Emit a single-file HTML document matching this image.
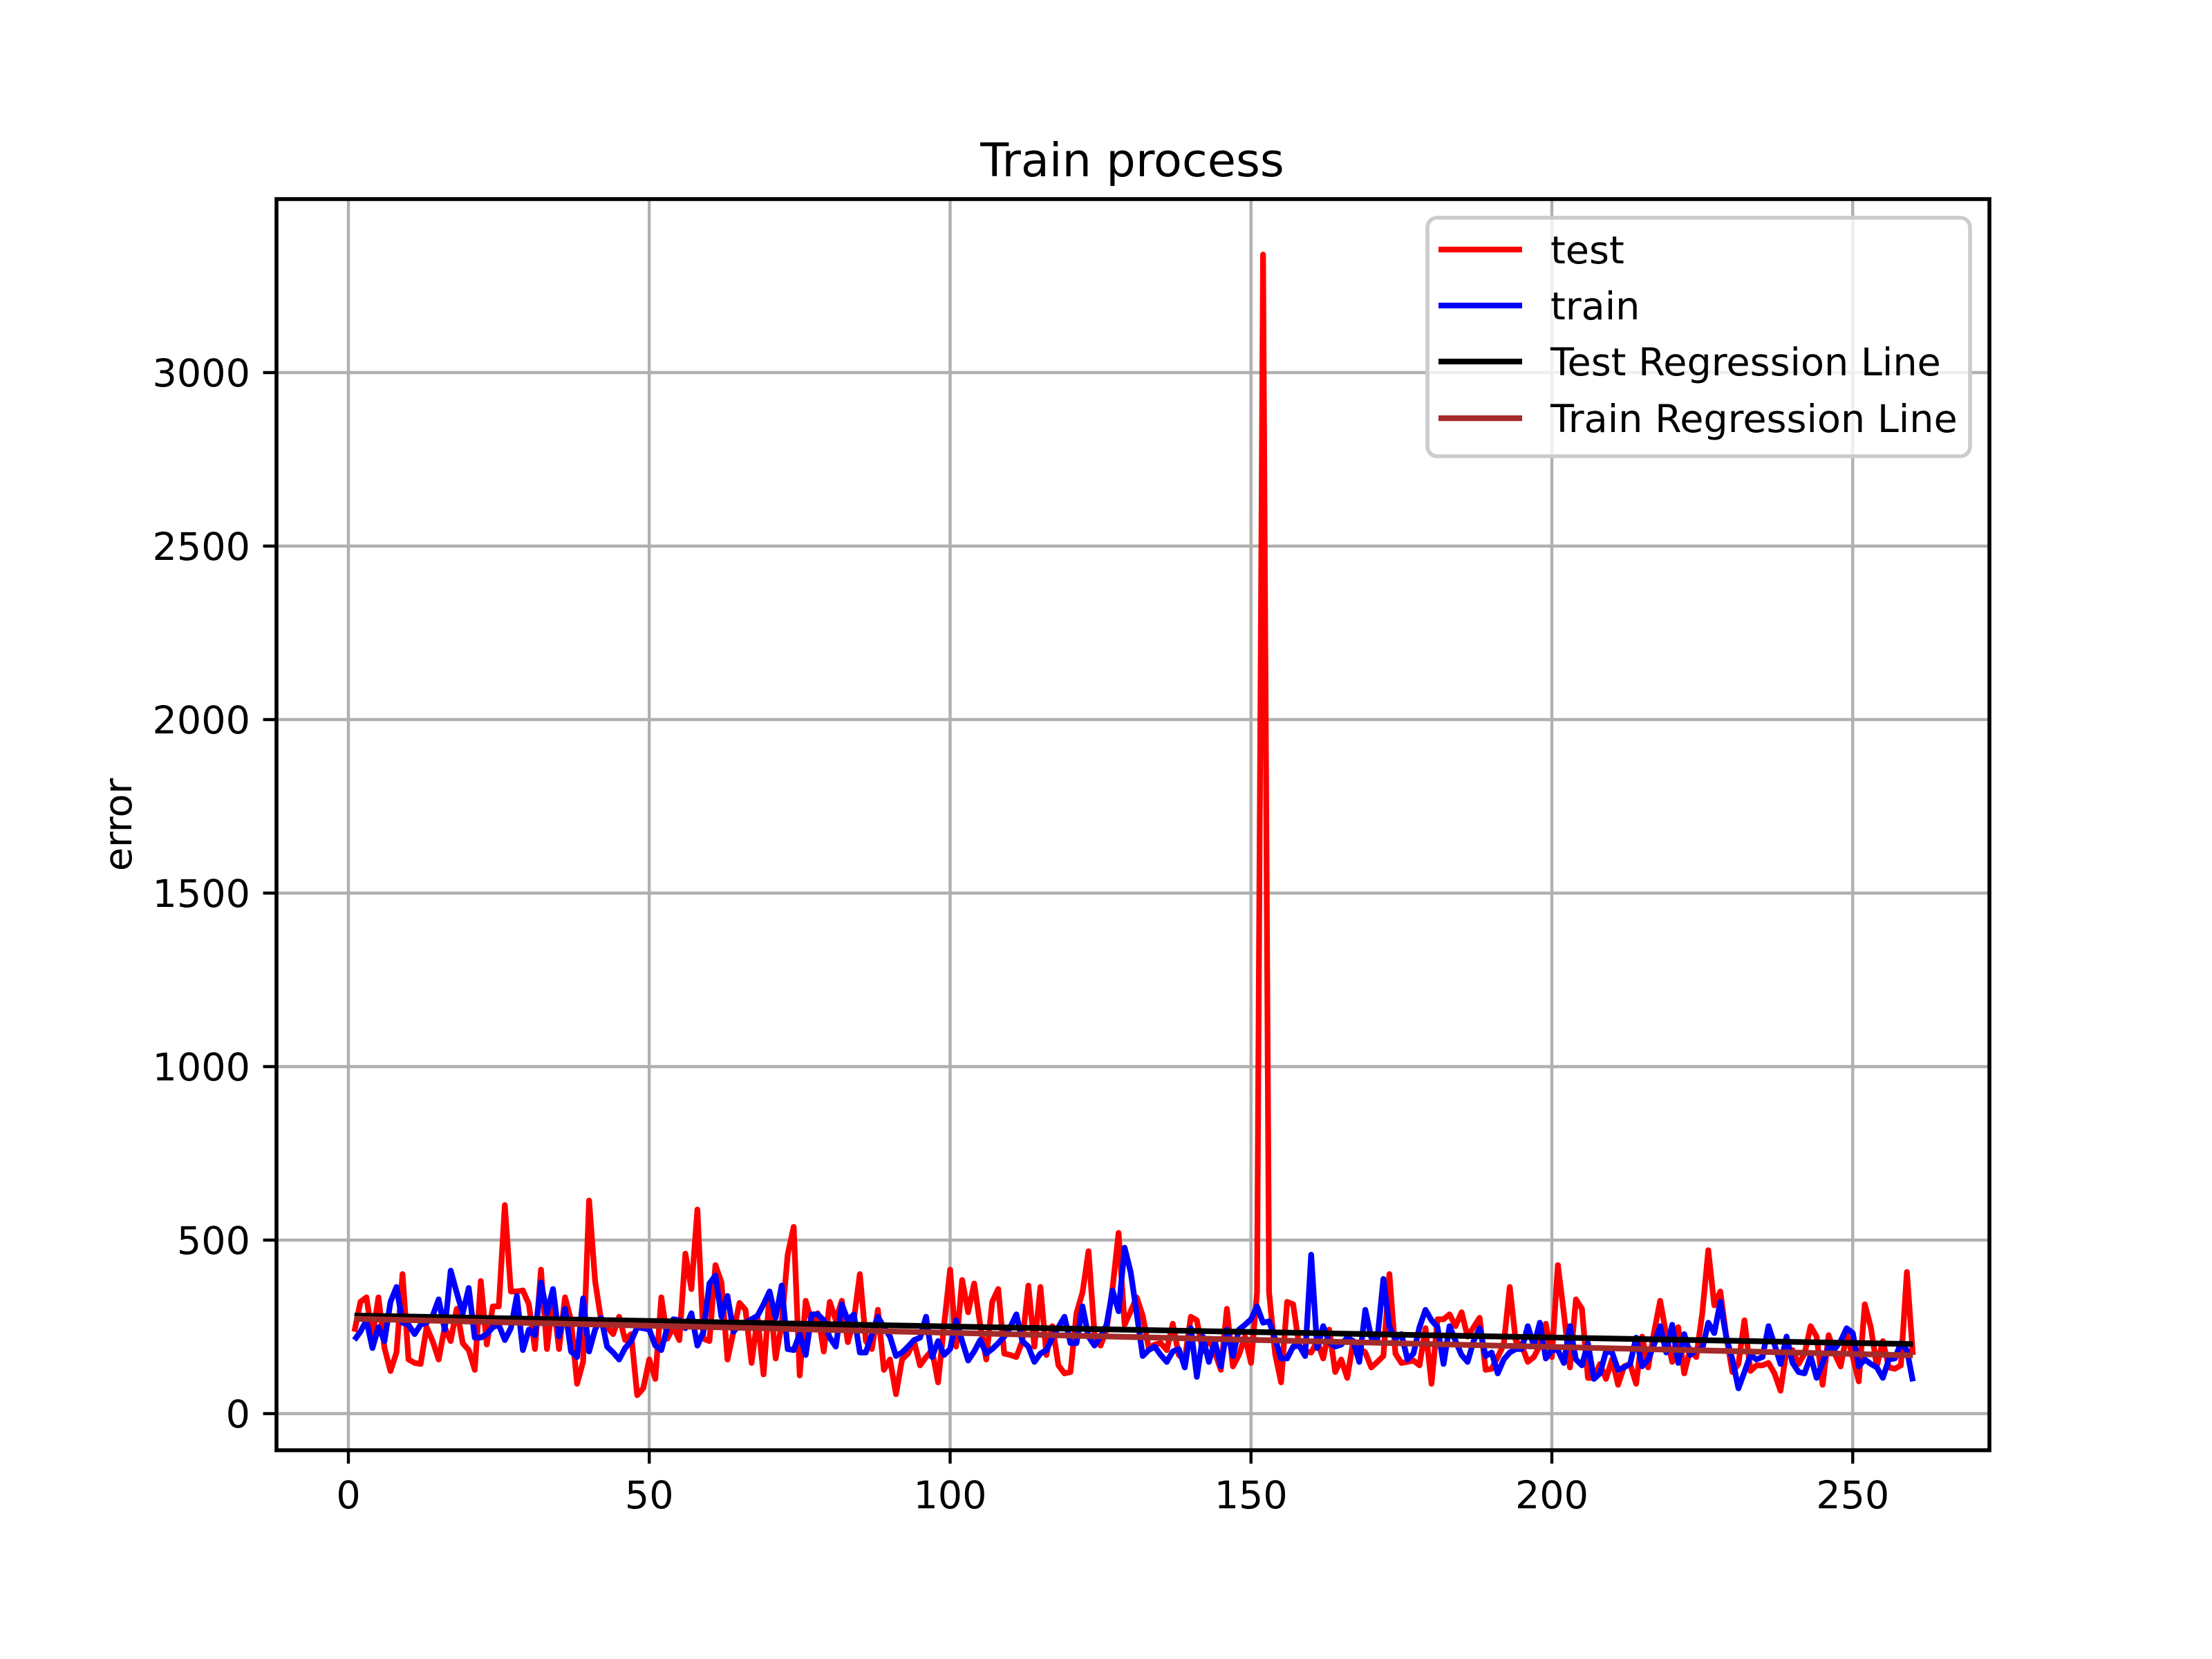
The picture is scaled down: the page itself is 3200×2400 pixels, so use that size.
<!DOCTYPE html>
<html><head><meta charset="utf-8"><style>
html,body{margin:0;padding:0;background:#fff;}
svg{display:block;font-family:"DejaVu Sans","Liberation Sans",sans-serif;}
</style></head><body>
<svg id="chart" width="3200" height="2400" viewBox="0 0 3200 2400" xmlns="http://www.w3.org/2000/svg">
<rect x="0" y="0" width="3200" height="2400" fill="#fff"/>
<g id="grid"></g>
<g id="series"></g>
<rect x="400" y="288" width="2478" height="1810" fill="none" stroke="#000" stroke-width="5.6"/>
<g id="ticks"></g>
<text x="1638" y="255" font-size="67" text-anchor="middle">Train process</text>
<text x="0" y="0" font-size="55.6" text-anchor="middle" transform="translate(190,1193) rotate(-90)">error</text>
<g>
<rect x="2065" y="315" width="785" height="345" rx="14" fill="#fff" fill-opacity="0.8" stroke="#cccccc" stroke-width="5.6"/>
<g><line x1="2081" y1="361" x2="2202" y2="361" stroke="#ff0000" stroke-width="8.3"/><text x="2243" y="381" font-size="55.6">test</text></g>
<g><line x1="2081" y1="442" x2="2202" y2="442" stroke="#0000ff" stroke-width="8.3"/><text x="2243" y="462" font-size="55.6">train</text></g>
<g><line x1="2081" y1="523" x2="2202" y2="523" stroke="#000" stroke-width="8.3"/><text x="2243" y="543" font-size="55.6">Test Regression Line</text></g>
<g><line x1="2081" y1="605" x2="2202" y2="605" stroke="#a52a2a" stroke-width="8.3"/><text x="2243" y="625" font-size="55.6">Train Regression Line</text></g>
</g>
</svg>
<script>
const xTicks = [0, 50, 100, 150, 200, 250];
const yTicks = [0, 500, 1000, 1500, 2000, 2500, 3000];
const testValues = [236,322,335,222,335,189,123,176,402,156,146,143,249,209,156,249,209,302,203,183,126,382,199,309,309,601,352,352,355,315,186,415,186,335,186,335,269,86,149,614,382,269,249,229,279,212,229,53,73,156,100,335,216,249,212,461,359,588,216,209,428,
378,156,236,319,299,146,276,113,349,159,259,458,538,110,325,262,289,179,322,269,325,206,269,402,209,186,299,126,156,56,156,173,209,139,163,183,90,256,415,193,385,292,375,256,156,322,359,173,169,163,209,369,193,365,169,252,139,116,120,289,349,468,
229,196,242,362,521,256,295,335,282,189,199,203,183,259,169,156,279,269,179,216,176,126,302,136,169,222,146,349,3340,349,173,90,322,315,196,179,176,209,159,242,120,156,103,209,189,176,133,149,166,402,173,146,149,153,139,246,86,272,272,286,252,292,
222,249,276,126,129,163,199,365,209,196,149,163,196,259,163,428,289,133,329,302,103,103,143,100,156,83,136,143,86,222,133,236,325,229,149,249,116,186,163,289,471,312,352,222,120,143,269,123,139,139,146,116,66,183,183,143,173,252,222,83,226,173,136,229,163,93,315,249,136,209,133,129,139,408,169];
const trainValues = [212,236,269,189,249,209,322,365,262,256,229,256,262,282,329,242,412,349,289,362,219,219,229,249,256,212,246,339,183,242,226,378,289,359,222,302,179,163,332,179,242,276,193,176,156,189,209,249,246,242,196,183,249,272,269,246,289,196,236,375,398,
279,339,236,256,262,272,282,315,352,276,369,186,183,229,169,286,286,269,219,193,315,269,286,176,176,229,279,249,222,166,176,193,212,219,279,163,209,169,186,269,209,153,179,212,173,186,203,222,249,286,209,193,149,173,183,219,249,279,203,203,309,222,
196,222,256,355,295,478,408,289,166,183,193,169,149,179,186,133,246,106,222,149,209,136,242,166,242,256,272,309,262,266,216,159,159,193,196,166,458,189,252,206,193,199,219,209,149,299,219,216,388,249,216,229,156,173,249,299,269,249,143,252,209,169,
149,209,246,166,176,116,156,176,186,186,252,196,262,159,183,183,146,252,156,139,203,100,116,179,176,126,133,143,219,136,156,199,252,176,256,146,229,169,183,186,262,232,322,219,156,73,120,169,156,163,252,199,143,222,146,120,116,166,103,146,193,186,209,246,232,136,156,143,133,103,156,159,203,183,93];

const NS = 'http://www.w3.org/2000/svg';
const X0 = 504, XS = 8.705, Y0 = 2045, YS = 0.502;
const L = 400, R = 2878, T = 288, B = 2098;
function sx(v){ return X0 + v * XS; }
function sy(v){ return Y0 - v * YS; }
function mk(tag, attrs){ const e = document.createElementNS(NS, tag); for (const k in attrs) e.setAttribute(k, attrs[k]); return e; }
const grid = document.getElementById('grid');
const ticks = document.getElementById('ticks');
const series = document.getElementById('series');

xTicks.forEach(t => {
  const gl = mk('line', {x1: sx(t), x2: sx(t), y1: T, y2: B, stroke: '#b0b0b0', 'stroke-width': 4.4});
  
  
  grid.appendChild(gl);
  const tk = mk('line', {x1: sx(t), x2: sx(t), y1: B, y2: B + 19.4, stroke: '#000', 'stroke-width': 4.4});
  
  
  ticks.appendChild(tk);
  const lb = mk('text', {x: sx(t), y: B + 84, 'font-size': 55.6, 'text-anchor': 'middle'});
  lb.textContent = String(t);
  
  
  ticks.appendChild(lb);
});
yTicks.forEach(t => {
  const gl = mk('line', {x1: L, x2: R, y1: sy(t), y2: sy(t), stroke: '#b0b0b0', 'stroke-width': 4.4});
  
  
  grid.appendChild(gl);
  const tk = mk('line', {x1: L - 19.4, x2: L, y1: sy(t), y2: sy(t), stroke: '#000', 'stroke-width': 4.4});
  
  
  ticks.appendChild(tk);
  const lb = mk('text', {x: L - 38, y: sy(t) + 20, 'font-size': 55.6, 'text-anchor': 'end'});
  lb.textContent = String(t);
  
  
  ticks.appendChild(lb);
});

function linePath(vals){
  return vals.map((v, i) => (i ? 'L' : 'M') + sx(i + 1).toFixed(1) + ' ' + sy(v).toFixed(1)).join(' ');
}
function fit(vals){
  const n = vals.length; let mx = 0, my = 0;
  vals.forEach((v, i) => { mx += i + 1; my += v; }); mx /= n; my /= n;
  let num = 0, den = 0;
  vals.forEach((v, i) => { num += (i + 1 - mx) * (v - my); den += (i + 1 - mx) * (i + 1 - mx); });
  const b = num / den; return [my - b * mx, b];
}
const pTest = mk('path', {d: linePath(testValues), fill: 'none', stroke: '#ff0000', 'stroke-width': 8.3, 'stroke-linejoin': 'round'});


series.appendChild(pTest);
const pTrain = mk('path', {d: linePath(trainValues), fill: 'none', stroke: '#0000ff', 'stroke-width': 8.3, 'stroke-linejoin': 'round'});


series.appendChild(pTrain);
const n = testValues.length;
const [ta, tb] = fit(testValues);
const rTest = mk('line', {x1: sx(1), y1: sy(ta + tb), x2: sx(n), y2: sy(ta + tb * n), stroke: '#000', 'stroke-width': 8.3});


series.appendChild(rTest);
const m = trainValues.length;
const [ra, rb] = fit(trainValues);
const rTrain = mk('line', {x1: sx(1), y1: sy(ra + rb), x2: sx(m), y2: sy(ra + rb * m), stroke: '#a52a2a', 'stroke-width': 8.3});


series.appendChild(rTrain);
</script>
</body></html>
